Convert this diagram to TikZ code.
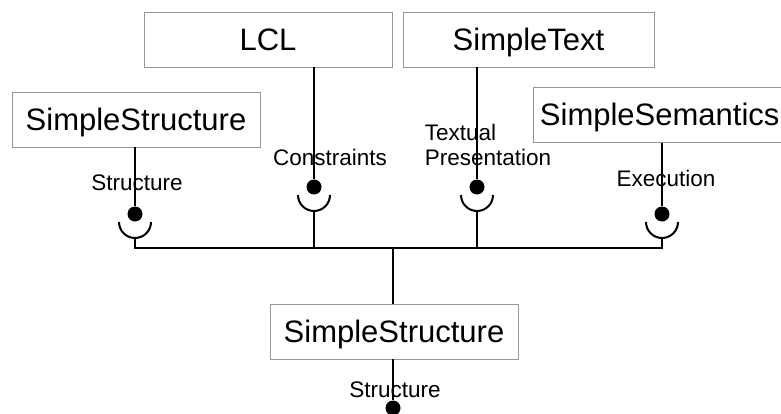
\documentclass[tikz,border=0pt]{standalone}
\usepackage{fontspec}
\setmainfont{Liberation Sans}
\usepackage{tikz}
\usepackage{xcolor}
\usetikzlibrary{positioning}

\definecolor{boxgray}{RGB}{150,150,150}

\begin{document}
\begin{tikzpicture}[x=1pt, y=-1pt, line width=1.6pt,
    box/.style={draw=boxgray, line width=0.9pt, minimum height=55pt, inner sep=0pt, text height=22pt, text depth=0pt, font=\fontsize{31}{37}\selectfont},
    ball/.style={circle, fill=black, inner sep=0pt, minimum size=15pt},
    lbl/.style={font=\fontsize{22.5}{25}\selectfont, inner sep=0pt, align=left}]
    \clip (0,0) rectangle (781,414);

    \node[box, minimum width=248pt] (lcl) at (268,39.5) {LCL};
    \node[box, minimum width=251pt] (text) at (528.5,39.5) {SimpleText};
    \node[box, minimum width=248pt] (struct) at (136,119.5) {SimpleStructure};
    \node[box, minimum width=257pt, anchor=west, text width=250pt, align=left] (sem) at (533,115) {\hspace*{3pt}SimpleSemantics};
    \node[box, minimum width=248pt] (core) at (394,331.5) {SimpleStructure};

    \node[ball] (b1) at (135,214) {};
    \node[ball] (b2) at (314,187) {};
    \node[ball] (b3) at (477,187) {};
    \node[ball] (b4) at (662,214) {};
    \node[ball] (b5) at (393,408) {};

    \coordinate (c1) at (135,222);
    \coordinate (c2) at (314,195);
    \coordinate (c3) at (477,195);
    \coordinate (c4) at (662,222);
    \coordinate (hub) at (393,248);

    \node[lbl] (l1) at (137,183) {Structure};
    \node[lbl] (l2) at (330,157) {Constraints};
    \node[lbl] (l3) at (488,144.5) {Textual\\Presentation};
    \node[lbl] (l4) at (666,178) {Execution};
    \node[lbl] (l5) at (395,390) {Structure};

    % provided interfaces
    \draw (struct.south -| b1) -- (b1);
    \draw (lcl.south -| b2) -- (b2);
    \draw (text.south -| b3) -- (b3);
    \draw (sem.south -| b4) -- (b4);
    \draw (core.south -| b5) -- (b5);

    % required sockets
    \foreach \c in {c1,c2,c3,c4}
        \draw[line width=2pt] ([xshift=-16pt]\c) arc[start angle=180, end angle=360, radius=16pt];

    \draw ([yshift=-16pt]c1) |- (hub);
    \draw ([yshift=-16pt]c2) |- (hub);
    \draw ([yshift=-16pt]c3) |- (hub);
    \draw ([yshift=-16pt]c4) |- (hub);
    \draw (hub) -- (hub |- core.north);
\end{tikzpicture}
\end{document}
